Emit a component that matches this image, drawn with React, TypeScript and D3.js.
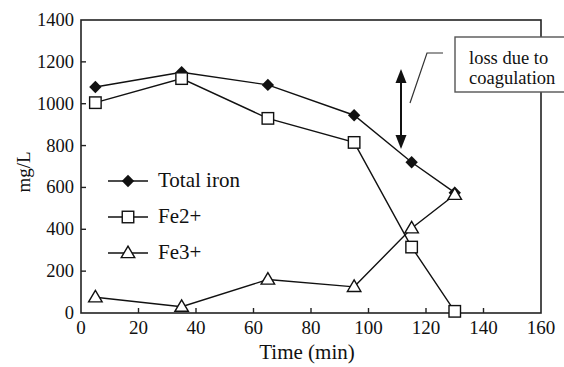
import React from "react";
import * as d3 from "d3";

const times = [5, 35, 65, 95, 115, 130];
const totalIron = [1080, 1150, 1090, 945, 720, 575];
const fe2 = [1005, 1120, 930, 815, 315, 8];
const fe3 = [75, 30, 160, 125, 405, 565];
const xTicks = [0, 20, 40, 60, 80, 100, 120, 140, 160];
const yTicks = [0, 200, 400, 600, 800, 1000, 1200, 1400];
const legendLabels = ["Total iron", "Fe2+", "Fe3+"];

const W = 564;
const H = 367;
const left = 81;
const right = 541;
const top = 20;
const bottom = 313;
const font = "Liberation Serif, Times New Roman, Times, DejaVu Serif, serif";
const ink = "#111";

const x = d3.scaleLinear().domain([0, 160]).range([left, right]);
const y = d3.scaleLinear().domain([0, 1400]).range([bottom, top]);

type Kind = "diamond" | "square" | "triangle";

function Marker({ cx, cy, kind }: { cx: number; cy: number; kind: Kind }) {
  if (kind === "diamond") {
    const r = 6.2;
    return (
      <path
        d={`M${cx},${cy - r}L${cx + r},${cy}L${cx},${cy + r}L${cx - r},${cy}Z`}
        fill={ink}
      />
    );
  }
  if (kind === "square") {
    const s = 11.5;
    return (
      <rect
        x={cx - s / 2}
        y={cy - s / 2}
        width={s}
        height={s}
        fill="#fff"
        stroke={ink}
        strokeWidth={1.4}
      />
    );
  }
  const w = 13.5;
  const h = 11.5;
  return (
    <path
      d={`M${cx},${cy - h * 0.6}L${cx + w / 2},${cy + h * 0.4}L${cx - w / 2},${cy + h * 0.4}Z`}
      fill="#fff"
      stroke={ink}
      strokeWidth={1.4}
    />
  );
}

const series: { values: number[]; kind: Kind }[] = [
  { values: totalIron, kind: "diamond" },
  { values: fe2, kind: "square" },
  { values: fe3, kind: "triangle" },
];

const txt = { fontFamily: font };

export default function App() {
  const line = d3
    .line<number>()
    .x((_, i) => x(times[i]))
    .y((v) => y(v));

  const arrowX = 401;
  const arrowTop = 69;
  const arrowBottom = 149;

  return (
    <svg
      width={W}
      height={H}
      style={{ position: "absolute", left: 0, top: 0, background: "#fff", fontFamily: font }}
    >
      <rect width={W} height={H} fill="#fff" />
      {/* frame */}
      <rect
        x={left}
        y={top}
        width={right - left}
        height={bottom - top}
        fill="none"
        stroke="#222"
        strokeWidth={1.6}
      />
      {/* inward ticks */}
      {xTicks.slice(1, -1).map((t) => (
        <line key={"xt" + t} x1={x(t)} x2={x(t)} y1={bottom} y2={bottom - 5} stroke="#222" strokeWidth={1.4} />
      ))}
      {yTicks.slice(1, -1).map((t) => (
        <line key={"yt" + t} x1={left} x2={left + 5} y1={y(t)} y2={y(t)} stroke="#222" strokeWidth={1.4} />
      ))}
      {xTicks.map((t) => (
        <text key={"xl" + t} style={txt} x={x(t)} y={bottom + 21} fontSize={19} textAnchor="middle" fill={ink}>
          {t}
        </text>
      ))}
      {yTicks.map((t) => (
        <text key={"yl" + t} style={txt} x={left - 7} y={y(t) + 6} fontSize={18.5} textAnchor="end" fill={ink}>
          {t}
        </text>
      ))}
      <text style={txt} x={307} y={359} fontSize={21} textAnchor="middle" fill={ink}>
        Time (min)
      </text>
      <text
        style={txt}
        transform={`translate(30,172) rotate(-90)`}
        fontSize={19}
        textAnchor="middle"
        fill={ink}
      >
        mg/L
      </text>

      {/* series */}
      {series.map((s, si) => (
        <g key={"s" + si}>
          <path d={line(s.values) || ""} fill="none" stroke={ink} strokeWidth={1.4} />
          {s.values.map((v, i) => (
            <Marker key={i} cx={x(times[i])} cy={y(v)} kind={s.kind} />
          ))}
        </g>
      ))}

      {/* legend */}
      {series.map((s, i) => {
        const ly = 181 + i * 36;
        return (
          <g key={"lg" + i}>
            <line x1={108} x2={148} y1={ly} y2={ly} stroke={ink} strokeWidth={1.4} />
            <Marker cx={128} cy={ly} kind={s.kind} />
            <text style={txt} x={158} y={ly + 6} fontSize={21} fill={ink}>
              {legendLabels[i]}
            </text>
          </g>
        );
      })}

      {/* coagulation loss arrow */}
      <line x1={arrowX} x2={arrowX} y1={arrowTop + 10} y2={arrowBottom - 10} stroke={ink} strokeWidth={2} />
      <path d={`M${arrowX},${arrowTop}L${arrowX + 5.5},${arrowTop + 14}L${arrowX - 5.5},${arrowTop + 14}Z`} fill={ink} />
      <path d={`M${arrowX},${arrowBottom}L${arrowX + 5.5},${arrowBottom - 14}L${arrowX - 5.5},${arrowBottom - 14}Z`} fill={ink} />

      {/* callout */}
      <polyline points="410,103 427,53 443,53" fill="none" stroke="#333" strokeWidth={1.2} />
      <rect x={455} y={37} width={120} height={55} fill="#fff" stroke="#555" strokeWidth={1.4} />
      <text style={txt} x={469} y={64} fontSize={18.5} fill={ink}>
        loss due to
      </text>
      <text style={txt} x={469} y={84} fontSize={18.5} fill={ink}>
        coagulation
      </text>
    </svg>
  );
}
